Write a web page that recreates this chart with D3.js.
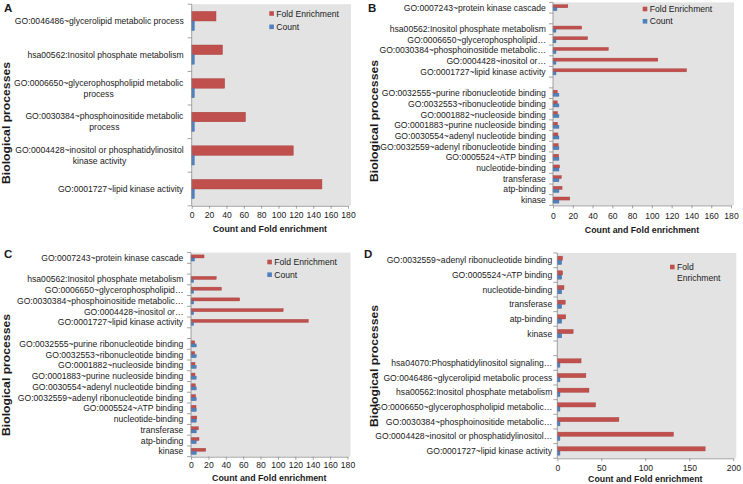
<!DOCTYPE html>
<html><head><meta charset="utf-8">
<script src="https://cdnjs.cloudflare.com/ajax/libs/d3/7.8.5/d3.min.js"></script>
<style>body{margin:0;background:#fff}svg{display:block;font-family:"Liberation Sans",Arial,sans-serif}</style>
</head><body><svg id="c" width="743" height="484"></svg>
<script>
// ---------- DATA ----------
const aCategories = [
  "GO:0046486~glycerolipid metabolic process",
  "hsa00562:Inositol phosphate metabolism",
  "GO:0006650~glycerophospholipid metabolic\nprocess",
  "GO:0030384~phosphoinositide metabolic\nprocess",
  "GO:0004428~inositol or phosphatidylinositol\nkinase activity",
  "GO:0001727~lipid kinase activity"
];
const aFold  = [28, 35.5, 38, 62, 117, 150];
const aCount = [3, 3, 3, 3, 3, 3];

const bcCategories = [
  "GO:0007243~protein kinase cascade", "",
  "hsa00562:Inositol phosphate metabolism",
  "GO:0006650~glycerophospholipid…",
  "GO:0030384~phosphoinositide metabolic…",
  "GO:0004428~inositol or…",
  "GO:0001727~lipid kinase activity", "",
  "GO:0032555~purine ribonucleotide binding",
  "GO:0032553~ribonucleotide binding",
  "GO:0001882~nucleoside binding",
  "GO:0001883~purine nucleoside binding",
  "GO:0030554~adenyl nucleotide binding",
  "GO:0032559~adenyl ribonucleotide binding",
  "GO:0005524~ATP binding",
  "nucleotide-binding", "transferase", "atp-binding", "kinase"
];
const bcFold  = [15, null, 29, 35, 56, 106, 135, null, 4.3, 4.3, 4.6, 4.6, 5, 5.3, 5.8, 6.7, 8.5, 9.2, 17];
const bcCount = [4, null, 3, 3, 3, 3, 3, null, 6, 6, 6, 6, 6, 6, 6, 6, 6, 6, 6];

const dCategories = [
  "GO:0032559~adenyl ribonucleotide binding",
  "GO:0005524~ATP binding",
  "nucleotide-binding", "transferase", "atp-binding", "kinase", "",
  "hsa04070:Phosphatidylinositol signaling…",
  "GO:0046486~glycerolipid metabolic process",
  "hsa00562:Inositol phosphate metabolism",
  "GO:0006650~glycerophospholipid metabolic…",
  "GO:0030384~phosphoinositide metabolic…",
  "GO:0004428~inositol or phosphatidylinositol…",
  "GO:0001727~lipid kinase activity"
];
const dFold  = [6, 6, 7.6, 9, 9.6, 18, null, 27, 32.5, 36, 43.5, 70, 132, 168];
const dCount = [5, 5, 5, 5, 5, 5, null, 3, 3, 3, 3, 3, 3, 3];

const ticks180 = [0, 20, 40, 60, 80, 100, 120, 140, 160, 180];
const ticks200 = [0, 50, 100, 150, 200];

const seriesNames = ["Fold Enrichment", "Count"];
const xTitle = "Count and Fold enrichment";
const yTitle = "Biological processes";

// ---------- STYLE ----------
const RED = "#C0504D", BLUE = "#4F81BD", BG = "#E3E3E3", AX = "#8c8c8c", TXT = "#1a1a1a";
const FS = 8.6;

const svg = d3.select("#c");

function drawPanel(p) {
  const g = svg.append("g");
  const x = d3.scaleLinear().domain([0, p.max]).range([p.x0, p.x1]);
  const y = d3.scaleBand().domain(d3.range(p.cats.length)).range([p.y0, p.y1]).padding(0);
  const step = y.step(), bw = step / 3.5;

  g.append("rect").attr("x", p.x0).attr("y", p.y0)
    .attr("width", p.x1 - p.x0 + 3).attr("height", p.y1 - p.y0).attr("fill", BG);

  const rows = p.cats.map((c, i) => ({i, c, f: p.fold[i], n: p.count[i]}));
  // fold bars (top of each group)
  g.selectAll(".fb").data(rows.filter(d => d.f != null)).join("rect")
    .attr("x", x(0)).attr("y", d => y(d.i) + step / 2 - bw)
    .attr("width", d => x(d.f) - x(0)).attr("height", bw)
    .attr("fill", RED).attr("stroke", "#a8403d").attr("stroke-width", 0.4);
  // count bars (bottom of each group)
  g.selectAll(".cb").data(rows.filter(d => d.n != null)).join("rect")
    .attr("x", x(0)).attr("y", d => y(d.i) + step / 2)
    .attr("width", d => x(d.n) - x(0)).attr("height", bw)
    .attr("fill", BLUE).attr("stroke", "#3f6a9e").attr("stroke-width", 0.4);

  // y axis line + boundary ticks
  g.append("line").attr("x1", p.x0).attr("x2", p.x0).attr("y1", p.y0).attr("y2", p.y1)
    .attr("stroke", AX).attr("stroke-width", 0.8);
  g.selectAll(".yt").data(d3.range(p.cats.length + 1)).join("line")
    .attr("x1", p.x0 - 4).attr("x2", p.x0)
    .attr("y1", i => p.y0 + i * step).attr("y2", i => p.y0 + i * step)
    .attr("stroke", AX).attr("stroke-width", 0.8);

  // category labels
  rows.forEach(d => {
    if (!d.c) return;
    const lines = d.c.split("\n");
    const cy = y(d.i) + step / 2;
    const t = g.append("text").attr("font-size", FS).attr("fill", TXT).attr("text-anchor", "middle");
    lines.forEach((ln, k) => t.append("tspan").attr("x", 0)
      .attr("y", cy + (k - (lines.length - 1) / 2) * 11).attr("dy", "0.35em").text(ln));
    const w = t.node().getBBox().width;
    t.selectAll("tspan").attr("x", p.x0 - p.gap - w / 2);
  });

  // x axis
  const ax = g.append("g").attr("transform", `translate(0,${p.y1})`)
    .call(d3.axisBottom(x).tickValues(p.ticks).tickSizeInner(3).tickSizeOuter(0).tickPadding(p.tpad));
  ax.select(".domain").attr("stroke", AX).attr("stroke-width", 0.8);
  ax.selectAll(".tick line").attr("stroke", AX).attr("stroke-width", 0.8);
  ax.selectAll("text").attr("font-size", FS).attr("fill", TXT).attr("font-family", null);

  // axis titles
  g.append("text").attr("x", (p.x0 + p.x1) / 2).attr("y", p.titleY).attr("dy", "0.35em")
    .attr("text-anchor", "middle").attr("font-size", 8.8).attr("font-weight", "bold")
    .attr("fill", TXT).text(xTitle);
  g.append("text").attr("transform", `translate(${p.ytX},${p.ytY}) rotate(-90)`)
    .attr("dy", "0.35em").attr("text-anchor", "middle").attr("font-size", 10.5)
    .attr("font-weight", "bold").attr("fill", TXT)
    .attr("textLength", 122).attr("lengthAdjust", "spacingAndGlyphs").text(yTitle);

  // panel letter
  g.append("text").attr("x", p.lx).attr("y", p.ly).attr("font-size", 11.5)
    .attr("font-weight", "bold").attr("fill", TXT).text(p.letter);

  // legend
  const leg = g.append("g");
  p.legend.forEach((L, k) => {
    leg.append("rect").attr("x", p.legX).attr("y", p.legY + k * p.legStep - 2.3)
      .attr("width", 4.6).attr("height", 4.6).attr("fill", k === 0 ? RED : BLUE);
    const lines = L.split("\n");
    lines.forEach((ln, j) => leg.append("text").attr("x", p.legX + 7)
      .attr("y", p.legY + k * p.legStep + j * 10.5).attr("dy", "0.35em")
      .attr("font-size", FS).attr("fill", TXT).text(ln));
  });
}

drawPanel({letter: "A", lx: 4, ly: 12, cats: aCategories, fold: aFold, count: aCount,
  max: 180, ticks: ticks180, x0: 191.7, x1: 348, y0: 4.2, y1: 205.8, gap: 8, tpad: 3,
  titleY: 229, ytX: 6, ytY: 123, legend: seriesNames, legX: 269.3, legY: 13.5, legStep: 13.3});

drawPanel({letter: "B", lx: 368, ly: 12, cats: bcCategories, fold: bcFold, count: bcCount,
  max: 180, ticks: ticks180, x0: 553, x1: 731, y0: 2.4, y1: 205.4, gap: 7, tpad: 4.5,
  titleY: 229.5, ytX: 374, ytY: 121, legend: seriesNames, legX: 642.7, legY: 9, legStep: 12.3});

drawPanel({letter: "C", lx: 4, ly: 258, cats: bcCategories, fold: bcFold, count: bcCount,
  max: 180, ticks: ticks180, x0: 191, x1: 347.5, y0: 252.6, y1: 456.7, gap: 7.5, tpad: 2,
  titleY: 477.5, ytX: 6, ytY: 375, legend: seriesNames, legX: 267.3, legY: 262, legStep: 12.7});

drawPanel({letter: "D", lx: 364, ly: 258, cats: dCategories, fold: dFold, count: dCount,
  max: 200, ticks: ticks200, x0: 557.3, x1: 733.3, y0: 253, y1: 458.3, gap: 5, tpad: 3.5,
  titleY: 478.5, ytX: 374, ytY: 366, legend: ["Fold\nEnrichment"], legX: 670, legY: 267, legStep: 12});
</script></body></html>
